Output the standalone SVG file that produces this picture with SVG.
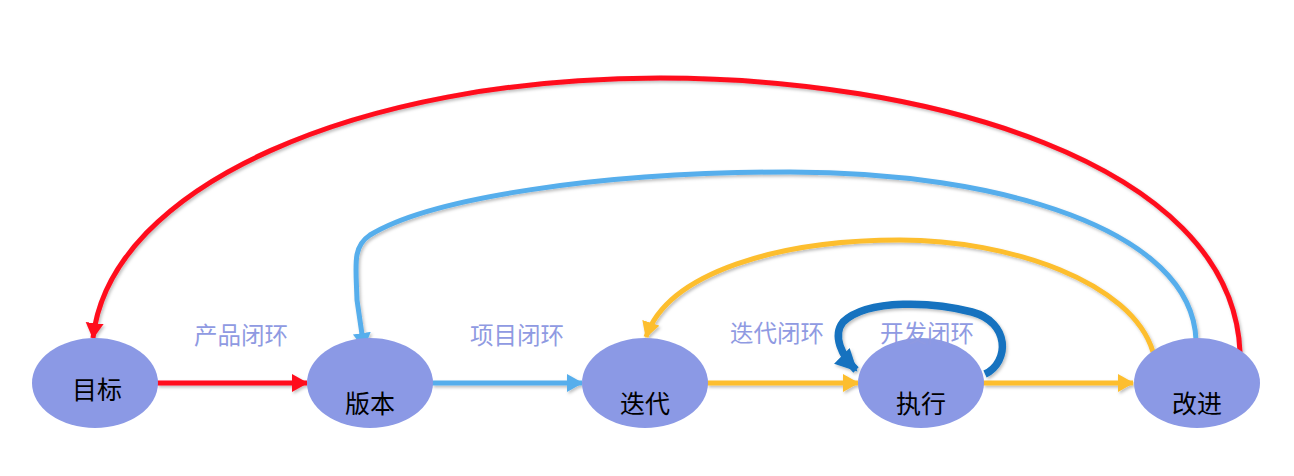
<svg xmlns="http://www.w3.org/2000/svg" width="1294" height="476" viewBox="0 0 1294 476">
<style>
.node{fill:#8b99e5}
.nt{font-family:"Noto Sans CJK SC","Noto Sans",sans-serif;font-size:25px;fill:#000;text-anchor:middle;dominant-baseline:central}
.lb{font-family:"Noto Sans CJK SC","Noto Sans",sans-serif;font-size:23.5px;fill:#8f9ae2;text-anchor:middle;dominant-baseline:central}
.c{fill:none;stroke-width:5;filter:url(#sh)}
.red{stroke:#ff0a1e}
.blue{stroke:#56aeec}
.yel{stroke:#fdbe2e}
.dblue{stroke:#1372bf;stroke-width:7.5}
</style>
<defs>
<filter id="sh" filterUnits="userSpaceOnUse" x="0" y="0" width="1294" height="476">
<feDropShadow dx="1.5" dy="2" stdDeviation="1.5" flood-color="#000" flood-opacity="0.25"/>
</filter>
<marker id="ar" markerUnits="userSpaceOnUse" markerWidth="18" markerHeight="20" refX="15" refY="9" orient="auto"><path d="M0,0 L16,9 L0,18 Z" fill="#ff0a1e"/></marker>
<marker id="ab" markerUnits="userSpaceOnUse" markerWidth="18" markerHeight="20" refX="15" refY="9" orient="auto"><path d="M0,0 L16,9 L0,18 Z" fill="#56aeec"/></marker>
<marker id="ay" markerUnits="userSpaceOnUse" markerWidth="18" markerHeight="20" refX="15" refY="9" orient="auto"><path d="M0,0 L16,9 L0,18 Z" fill="#fdbe2e"/></marker>
<marker id="ad" markerUnits="userSpaceOnUse" markerWidth="24" markerHeight="24" refX="20" refY="11" orient="auto"><path d="M0,0 L22,11 L0,22 Z" fill="#1372bf"/></marker>
</defs>
<g id="connectors">
<path class="c red" d="M157,383 L307,383" marker-end="url(#ar)"/>
<path class="c blue" d="M432,383 L582,383" marker-end="url(#ab)"/>
<path class="c yel" d="M707,383 L858,383" marker-end="url(#ay)"/>
<path class="c yel" d="M983,383 L1133,383" marker-end="url(#ay)"/>
<path class="c red" d="M1240,352 C1232,160 920,78 660,78 C360,78 110,185 93,338" marker-end="url(#ar)"/>
<path class="c blue" d="M1196,340 C1192,230 1000,172 790,172 C600,172 430,198 370,235 C352,247 356,265 357,300 L364,348" marker-end="url(#ab)"/>
<path class="c yel" d="M1153,352 C1132,282 1010,240 900,240 C780,240 668,272 646,337" marker-end="url(#ay)"/>
<path class="c dblue" d="M985,374 C1010,362 1010,322 972,312 C935,302 868,298 843,322 C832,336 842,356 856,370" marker-end="url(#ad)"/>
</g>
<g id="n-mubiao"><ellipse class="node" cx="95" cy="383" rx="63" ry="45"/><text class="nt" x="97" y="388">目标</text></g>
<g id="n-banben"><ellipse class="node" cx="370" cy="383" rx="63" ry="45"/><text class="nt" x="370" y="402">版本</text></g>
<g id="n-diedai"><ellipse class="node" cx="645" cy="383" rx="63" ry="45"/><text class="nt" x="645" y="402">迭代</text></g>
<g id="n-zhixing"><ellipse class="node" cx="921" cy="383" rx="63" ry="45"/><text class="nt" x="921" y="402">执行</text></g>
<g id="n-gaijin"><ellipse class="node" cx="1197" cy="383" rx="63" ry="45"/><text class="nt" x="1197" y="402">改进</text></g>
<g id="labels">
<text class="lb" x="241" y="334">产品闭环</text>
<text class="lb" x="517" y="334">项目闭环</text>
<text class="lb" x="777" y="332">迭代闭环</text>
<text class="lb" x="927" y="332">开发闭环</text>
</g>
</svg>
